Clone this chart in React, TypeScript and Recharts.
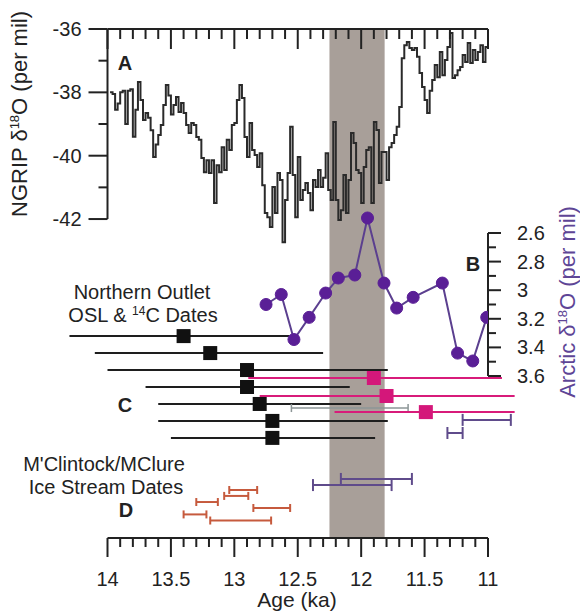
import React from 'react';
import { ComposedChart, Line, Scatter, ErrorBar, XAxis, YAxis, ReferenceArea, ReferenceLine } from 'recharts';

const INK = '#222';
const PURPLE = '#5b3f8f';
const FONT = '"Liberation Sans", Arial, sans-serif';

// NGRIP d18O, 20-yr steps starting at 13.98 ka going younger
const NGRIP_START_KA = 13.98;
const NGRIP_STEP_KA = 0.02;
const NGRIP_D18O = [
  -38.0, -38.05, -38.55, -38.35, -38.0, -37.95, -39.0, -37.95, -37.9, -39.4,
  -38.55, -37.67, -38.24, -38.87, -38.65, -38.8, -39.2, -40.04, -39.65, -39.35,
  -39.03, -38.4, -37.77, -38.1, -38.7, -38.4, -38.15, -38.62, -38.34, -38.65,
  -39.03, -39.28, -38.97, -39.03, -39.41, -39.5, -40.07, -40.52, -40.14, -40.55,
  -40.14, -41.49, -40.3, -40.52, -39.73, -40.45, -39.5, -39.82, -39.03, -38.97,
  -38.24, -37.77, -38.18, -39.41, -40.04, -38.97, -39.82, -39.98, -40.36, -39.92,
  -40.93, -41.81, -41.94, -42.25, -40.99, -41.81, -40.55, -40.77, -42.73, -41.4,
  -40.55, -39.09, -40.61, -41.94, -40.04, -41.4, -41.08, -40.86, -41.18, -41.72,
  -40.77, -40.99, -40.45, -40.99, -40.7, -39.92, -41.08, -41.4, -38.94, -41.4,
  -42.03, -41.72, -40.61, -41.81, -40.77, -39.28, -39.6, -40.45, -40.55, -41.49,
  -40.36, -39.82, -39.73, -41.49, -38.94, -39.19, -40.86, -39.88, -39.88, -40.77,
  -39.73, -39.6, -39.35, -39.09, -38.46, -36.92, -36.51, -36.41, -36.6, -36.66,
  -36.6, -36.88, -37.39, -37.83, -38.24, -38.65, -37.95, -37.61, -37.14, -37.52,
  -36.73, -37.46, -36.98, -36.57, -36.13, -37.55, -37.46, -37.3, -37.2, -36.82,
  -37.04, -36.44, -37.07, -36.66, -36.98, -36.73, -36.51, -37.04, -36.57, -36.57,
];

// Arctic d18O (panel B)
const ARCTIC_AGE = [12.75, 12.63, 12.53, 12.41, 12.28, 12.18, 12.05, 11.95, 11.82, 11.72, 11.59, 11.36, 11.24, 11.12, 11.01];
const ARCTIC_D18O = [3.1, 3.03, 3.345, 3.19, 3.02, 2.915, 2.894, 2.495, 2.95, 3.125, 3.05, 2.95, 3.44, 3.495, 3.19];

// panel C: Northern Outlet OSL & 14C dates (black)
const OSL_AGE = [13.4, 13.19, 12.9, 12.9, 12.8, 12.7, 12.7];
const OSL_YOUNG = [12.52, 12.3, 11.79, 12.09, 12.0, 11.79, 11.89];
const OSL_OLD = [14.3, 14.1, 14.0, 13.7, 13.6, 13.6, 13.5];
const OSL_ROW = [0, 1, 2, 3, 4, 5, 6];

// magenta dates
const MAG_AGE = [11.9, 11.8, 11.49];
const MAG_YOUNG = [10.89, 10.79, 10.79];
const MAG_OLD = [12.89, 12.8, 12.21];
const MAG_ROW = [2.47, 3.53, 4.48];

// grey date
const GREY_YOUNG = [11.63];
const GREY_OLD = [12.55];
const GREY_ROW = [4.24];

// purple dates in C
const PURC_YOUNG = [10.82, 11.2];
const PURC_OLD = [11.2, 11.32];
const PURC_ROW = [4.94, 5.71];

// panel D: M'Clintock/MClure ice stream dates
const PURD_YOUNG = [11.6, 11.76];
const PURD_OLD = [12.16, 12.38];
const PURD_ROW = [8.42, 8.78];

const ORANGE_YOUNG = [12.82, 12.89, 13.13, 12.56, 13.22, 12.71];
const ORANGE_OLD = [13.04, 13.08, 13.3, 12.85, 13.4, 13.19];
const ORANGE_ROW = [9.07, 9.42, 9.78, 10.13, 10.51, 10.87];

const YD_BAND = [12.25, 11.815];

const X_TICKS = [11, 11.1, 11.2, 11.3, 11.4, 11.5, 11.6, 11.7, 11.8, 11.9, 12, 12.1, 12.2, 12.3, 12.4, 12.5,
  12.6, 12.7, 12.8, 12.9, 13, 13.1, 13.2, 13.3, 13.4, 13.5, 13.6, 13.7, 13.8, 13.9, 14];
const NGRIP_TICKS = [-42, -41, -40, -39, -38, -37, -36];
const ARCTIC_TICKS = [2.6, 2.7, 2.8, 2.9, 3, 3.1, 3.2, 3.3, 3.4, 3.5, 3.6];

// plot box of the chart (set by the axis sizes below)
const PLOT_LEFT = 107.5;
const PLOT_RIGHT = 488;
const PLOT_TOP = 29;
const ageToX = (a: number) => PLOT_LEFT + ((14 - a) / 3) * (PLOT_RIGHT - PLOT_LEFT);

const ngripData = NGRIP_D18O.map((v, i) => ({ age: +(NGRIP_START_KA - i * NGRIP_STEP_KA).toFixed(2), v }));
const arcticData = ARCTIC_AGE.map((age, i) => ({ age, d18o: ARCTIC_D18O[i] }));

const bars = (young: number[], old: number[], rows: number[], centers?: number[]) =>
  rows.map((row, i) => {
    const age = centers ? centers[i] : (young[i] + old[i]) / 2;
    return { age, row, err: [age - young[i], old[i] - age] };
  });

const oslData = bars(OSL_YOUNG, OSL_OLD, OSL_ROW, OSL_AGE);
const magData = bars(MAG_YOUNG, MAG_OLD, MAG_ROW, MAG_AGE);
const greyData = bars(GREY_YOUNG, GREY_OLD, GREY_ROW);
const purCData = bars(PURC_YOUNG, PURC_OLD, PURC_ROW);
const purDData = bars(PURD_YOUNG, PURD_OLD, PURD_ROW);
const orangeData = bars(ORANGE_YOUNG, ORANGE_OLD, ORANGE_ROW);

const isHalf = (v: number) => Math.abs(v * 2 - Math.round(v * 2)) < 1e-6;

const BottomTick = ({ x, y, payload }: any) => {
  const major = isHalf(payload.value);
  return (
    <g>
      <line x1={x} x2={x} y1={y} y2={y + (major ? 19 : 9)} stroke={INK} strokeWidth={2} />
      {major && (
        <text x={x} y={y + 48} textAnchor="middle" fontSize={20} fill={INK} fontFamily={FONT}>
          {String(payload.value)}
        </text>
      )}
    </g>
  );
};

const NgripTick = ({ x, y, payload }: any) => {
  const major = payload.value % 2 === 0;
  return (
    <g>
      <line x1={x - (major ? 19 : 9)} x2={x} y1={y} y2={y} stroke={INK} strokeWidth={2} />
      {major && (
        <text x={x - 26} y={y + 7} textAnchor="end" fontSize={20} fill={INK} fontFamily={FONT}>
          {String(payload.value)}
        </text>
      )}
    </g>
  );
};

const ArcticTick = ({ x, y, payload }: any) => {
  const major = Math.round(payload.value * 10) % 2 === 0;
  return (
    <g>
      <line x1={x} x2={x + (major ? 13 : 8)} y1={y} y2={y} stroke={INK} strokeWidth={2} />
      {major && (
        <text x={x + 29} y={y + 7} textAnchor="start" fontSize={20} fill={INK} fontFamily={FONT}>
          {String(payload.value)}
        </text>
      )}
    </g>
  );
};

const square = (fill: string) => (p: any) => (
  <rect x={p.cx - 7} y={p.cy - 7} width={14} height={14} fill={fill} />
);
const noMark = () => <g />;

export default function App() {
  return (
    <div style={{ position: 'absolute', left: 0, top: 0, width: 580, height: 614, background: '#fff', fontFamily: FONT }}>
      <style>{`.recharts-scatter{clip-path:none}`}</style>
      <ComposedChart width={580} height={614} margin={{ top: PLOT_TOP, right: 0, bottom: 0, left: 0 }}>
        <XAxis
          dataKey="age"
          type="number"
          domain={[11, 14]}
          reversed
          allowDataOverflow
          ticks={X_TICKS}
          interval={0}
          height={76}
          tickSize={0}
          tickMargin={0}
          tickLine={false}
          axisLine={{ stroke: INK, strokeWidth: 2 }}
          tick={(p: any) => <BottomTick {...p} />}
        />
        <YAxis
          yAxisId="a"
          type="number"
          domain={[-52.07, -36]}
          allowDataOverflow
          ticks={NGRIP_TICKS}
          interval={0}
          width={PLOT_LEFT}
          tickSize={0}
          tickMargin={0}
          tickLine={false}
          axisLine={false}
          tick={(p: any) => <NgripTick {...p} />}
        />
        <YAxis
          yAxisId="b"
          orientation="right"
          type="number"
          domain={[1.1734, 4.7329]}
          reversed
          allowDataOverflow
          ticks={ARCTIC_TICKS}
          interval={0}
          width={580 - PLOT_RIGHT}
          tickSize={0}
          tickMargin={0}
          tickLine={false}
          axisLine={false}
          tick={(p: any) => <ArcticTick {...p} />}
        />
        <YAxis yAxisId="r" dataKey="row" type="number" domain={[-18.1, 11.9]} reversed allowDataOverflow hide />

        <ReferenceArea yAxisId="a" x1={YD_BAND[0]} x2={YD_BAND[1]} fill="#a89f99" fillOpacity={1} stroke="none" />
        <ReferenceLine yAxisId="a" ifOverflow="visible" segment={[{ x: 14, y: -36 }, { x: 14, y: -42 }]} stroke={INK} strokeWidth={2} />
        <ReferenceLine yAxisId="b" ifOverflow="visible" segment={[{ x: 11, y: 2.6 }, { x: 11, y: 3.6 }]} stroke={INK} strokeWidth={2} />

        <Line
          yAxisId="a"
          data={ngripData}
          dataKey="v"
          type="stepAfter"
          stroke="#2a2a2a"
          strokeWidth={2}
          dot={false}
          isAnimationActive={false}
        />
        <Line
          yAxisId="b"
          data={arcticData}
          dataKey="d18o"
          type="linear"
          stroke={PURPLE}
          strokeWidth={2}
          dot={{ r: 6, fill: '#5a1f96', stroke: '#5a1f96', strokeWidth: 1 }}
          isAnimationActive={false}
        />

        <Scatter yAxisId="r" data={oslData} shape={square('#111')} isAnimationActive={false}>
          <ErrorBar dataKey="err" direction="x" width={0} stroke="#1e1e1e" strokeWidth={2} isAnimationActive={false} />
        </Scatter>
        <Scatter yAxisId="r" data={greyData} shape={noMark} isAnimationActive={false}>
          <ErrorBar dataKey="err" direction="x" width={4} stroke="#8d9697" strokeWidth={1.5} isAnimationActive={false} />
        </Scatter>
        <Scatter yAxisId="r" data={purCData} shape={noMark} isAnimationActive={false}>
          <ErrorBar dataKey="err" direction="x" width={6} stroke="#5f4b8b" strokeWidth={2} isAnimationActive={false} />
        </Scatter>
        <Scatter yAxisId="r" data={magData} shape={square('#d4177a')} isAnimationActive={false}>
          <ErrorBar dataKey="err" direction="x" width={0} stroke="#d81b7a" strokeWidth={2} isAnimationActive={false} />
        </Scatter>
        <Scatter yAxisId="r" data={purDData} shape={noMark} isAnimationActive={false}>
          <ErrorBar dataKey="err" direction="x" width={6} stroke="#5f4b8b" strokeWidth={2} isAnimationActive={false} />
        </Scatter>
        <Scatter yAxisId="r" data={orangeData} shape={noMark} isAnimationActive={false}>
          <ErrorBar dataKey="err" direction="x" width={4} stroke="#c65a3d" strokeWidth={2} isAnimationActive={false} />
        </Scatter>
      </ComposedChart>

      <svg
        width={580}
        height={614}
        style={{ position: 'absolute', left: 0, top: 0, pointerEvents: 'none' }}
        fontFamily={FONT}
        fill={INK}
      >
        {/* top age axis of panel A, ticks pointing down */}
        <line x1={PLOT_LEFT} x2={PLOT_RIGHT} y1={PLOT_TOP} y2={PLOT_TOP} stroke={INK} strokeWidth={2} />
        {X_TICKS.map((t) => (
          <line
            key={t}
            x1={ageToX(t)}
            x2={ageToX(t)}
            y1={PLOT_TOP}
            y2={PLOT_TOP + (isHalf(t) ? 20 : 10)}
            stroke={INK}
            strokeWidth={2}
          />
        ))}

        <text transform="translate(27,114) rotate(-90)" textAnchor="middle" fontSize={22}>
          NGRIP δ<tspan dy={-8} fontSize={13}>18</tspan>
          <tspan dy={8}>O (per mil)</tspan>
        </text>
        <text transform="translate(575,302) rotate(-90)" textAnchor="middle" fontSize={22} fill="#5e4596">
          Arctic δ<tspan dy={-8} fontSize={13}>18</tspan>
          <tspan dy={8}>O (per mil)</tspan>
        </text>
        <text x={297} y={607} textAnchor="middle" fontSize={21}>Age (ka)</text>

        <text x={125} y={70} textAnchor="middle" fontSize={20} fontWeight="bold">A</text>
        <text x={473} y={271} textAnchor="middle" fontSize={20} fontWeight="bold">B</text>
        <text x={125} y={412} textAnchor="middle" fontSize={20} fontWeight="bold">C</text>
        <text x={126} y={517} textAnchor="middle" fontSize={20} fontWeight="bold">D</text>

        <text x={142} y={299} textAnchor="middle" fontSize={20}>Northern Outlet</text>
        <text x={143} y={322} textAnchor="middle" fontSize={20}>
          OSL &amp; <tspan dy={-7} fontSize={12}>14</tspan>
          <tspan dy={7}>C Dates</tspan>
        </text>
        <text x={104} y={471} textAnchor="middle" fontSize={20}>M'Clintock/MClure</text>
        <text x={106} y={494} textAnchor="middle" fontSize={20}>Ice Stream Dates</text>
      </svg>
    </div>
  );
}
